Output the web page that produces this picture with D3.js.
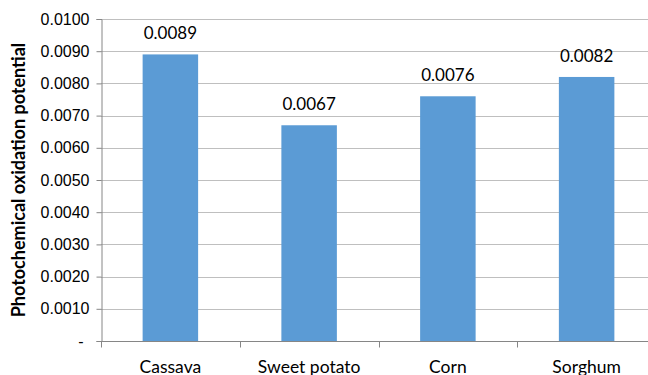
<!DOCTYPE html>
<html>
<head>
<meta charset="utf-8">
<script src="https://cdn.jsdelivr.net/npm/d3@7"></script>
<style>
  html, body { margin: 0; padding: 0; background: #fff; }
  svg { display: block; font-family: Lato, "Open Sans", sans-serif; }
</style>
</head>
<body>
<div id="chart"></div>
<script>
// Photochemical oxidation potential by crop
const crops = ["Cassava", "Sweet potato", "Corn", "Sorghum"];
const potential = [0.0089, 0.0067, 0.0076, 0.0082];
const yTicks = [0, 0.001, 0.002, 0.003, 0.004, 0.005, 0.006, 0.007, 0.008, 0.009, 0.010];

const W = 648, H = 375;
const margin = { top: 19, right: -8, bottom: 34, left: 101 };
const innerW = W - margin.left - margin.right;
const innerH = H - margin.top - margin.bottom;

const svg = d3.select("#chart").append("svg")
  .attr("width", W).attr("height", H);

const g = svg.append("g").attr("transform", `translate(${margin.left},${margin.top})`);

const x = d3.scaleBand().domain(crops).range([0, innerW]).paddingInner(0.6).paddingOuter(0.3);
const xBounds = d3.scaleBand().domain(crops).range([0, innerW]);
const y = d3.scaleLinear().domain([0, 0.010]).range([innerH, 0]);

// horizontal gridlines
g.append("g").selectAll("line").data(yTicks.filter(t => t > 0)).join("line")
  .attr("x1", 0).attr("x2", innerW)
  .attr("y1", d => Math.round(y(d)) + 0.5).attr("y2", d => Math.round(y(d)) + 0.5)
  .attr("stroke", "#bfbfbf").attr("stroke-width", 1);

// bars
g.append("g").selectAll("rect").data(crops).join("rect")
  .attr("x", d => x(d)).attr("width", x.bandwidth())
  .attr("y", (d, i) => y(potential[i]))
  .attr("height", (d, i) => innerH - y(potential[i]))
  .attr("fill", "#5b9bd5");

// value labels
g.append("g").selectAll("text").data(crops).join("text")
  .attr("x", d => x(d) + x.bandwidth() / 2)
  .attr("y", (d, i) => y(potential[i]) - 15)
  .attr("text-anchor", "middle")
  .attr("font-size", 17).attr("fill", "#000")
  .text((d, i) => potential[i].toFixed(4));

// y axis
const yAxis = d3.axisLeft(y).tickValues(yTicks).tickSize(5).tickPadding(7)
  .tickFormat(d => d === 0 ? "-" : d3.format(".4f")(d));
const ya = g.append("g").attr("transform", "translate(0.5,0)").call(yAxis);
ya.select(".domain").attr("stroke", "#868686").attr("d", `M-5,${innerH + 0.5}H0.5V0.5H-5`);
ya.selectAll(".tick line").attr("stroke", "#868686");
ya.selectAll(".tick text").attr("font-size", 16).attr("fill", "#000");
ya.selectAll(".tick").filter(d => d === 0).select("text").attr("dx", -6);

// x axis baseline and category divider ticks
const xa = g.append("g").attr("transform", `translate(0,${innerH + 0.5})`);
xa.append("line").attr("x1", 0).attr("x2", innerW).attr("stroke", "#868686");
xa.selectAll("line.div").data(crops).join("line").attr("class", "div")
  .attr("x1", d => Math.round(xBounds(d)) + 0.5).attr("x2", d => Math.round(xBounds(d)) + 0.5)
  .attr("y1", 0).attr("y2", 6).attr("stroke", "#868686");
xa.selectAll("text").data(crops).join("text")
  .attr("x", d => xBounds(d) + xBounds.bandwidth() / 2)
  .attr("y", 31)
  .attr("text-anchor", "middle").attr("font-size", 17.5).attr("fill", "#000")
  .text(d => d);

// y axis title
svg.append("text")
  .attr("transform", `translate(25,${margin.top + innerH / 2}) rotate(-90)`)
  .attr("text-anchor", "middle").attr("font-size", 18).attr("font-weight", "bold")
  .attr("fill", "#000")
  .text("Photochemical oxidation potential");
</script>
</body>
</html>
